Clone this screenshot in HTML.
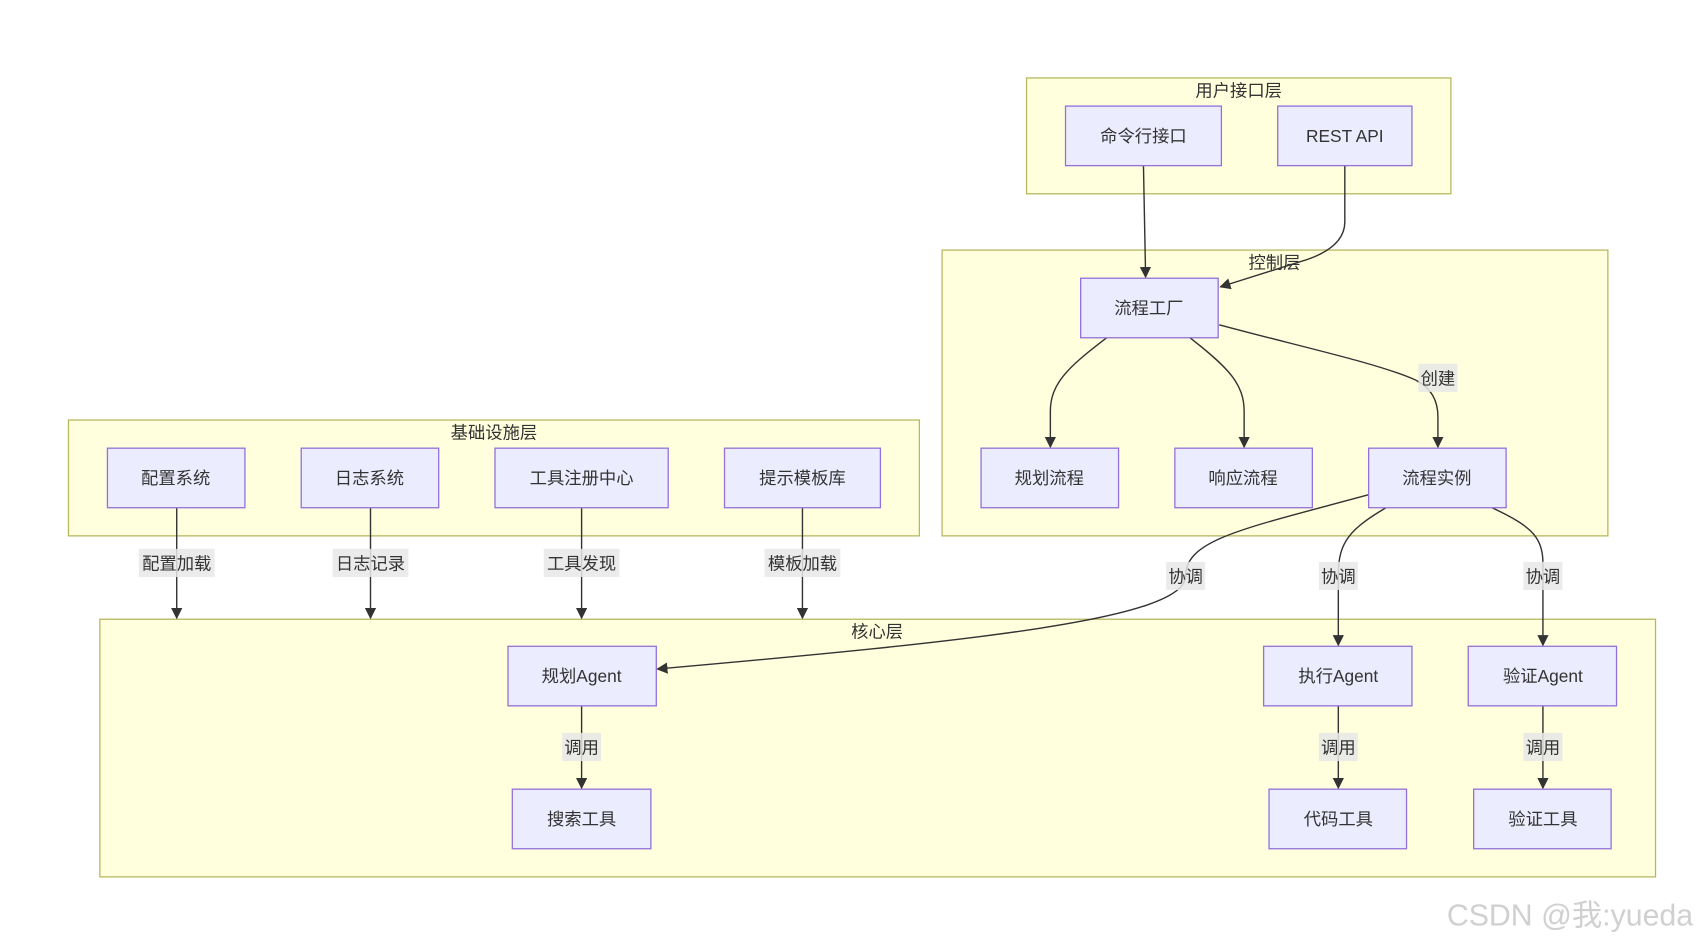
<!DOCTYPE html>
<html><head><meta charset="utf-8"><style>
html,body{margin:0;padding:0;background:#fff;}
svg{display:block;}
text{font-family:"Liberation Sans","Noto Sans CJK SC",sans-serif;fill:#333;}
.c{fill:#ffffde;stroke:#b8b860;stroke-width:1.2;}
.n{fill:#ececff;stroke:#9370db;stroke-width:1.2;}
.e{fill:none;stroke:#333;stroke-width:1.3;}
.lb{fill:#e8e8e8;opacity:0.85;}
</style></head><body>
<svg width="1698" height="944" viewBox="0 0 1568 872" xmlns="http://www.w3.org/2000/svg">
<defs><marker id="a" viewBox="0 0 10 10" refX="9" refY="5" markerWidth="8" markerHeight="8" orient="auto"><path d="M0,0 L10,5 L0,10 z" fill="#333"/></marker></defs>

<rect class="c" x="948" y="72" width="392" height="107"/>
<text x="1144" y="89" font-size="16" text-anchor="middle">用户接口层</text>
<rect class="c" x="870" y="231" width="615" height="264"/>
<text x="1177" y="248" font-size="16" text-anchor="middle">控制层</text>
<rect class="c" x="63" y="388" width="786" height="107"/>
<text x="456" y="405" font-size="16" text-anchor="middle">基础设施层</text>
<rect class="c" x="92" y="572" width="1437" height="238"/>
<text x="810" y="589" font-size="16" text-anchor="middle">核心层</text>

<!-- edges -->
<path class="e" marker-end="url(#a)" d="M1056,153 L1058,256"/>
<path class="e" marker-end="url(#a)" d="M1242,153 L1242,205 Q1242,230 1200,242 L1127,265"/>
<path class="e" marker-end="url(#a)" d="M1022,312 C985,340 970,355 970,380 L970,413"/>
<path class="e" marker-end="url(#a)" d="M1099,312 C1135,340 1149,355 1149,380 L1149,413"/>
<path class="e" marker-end="url(#a)" d="M1126,300 C1200,320 1270,335 1305,350 Q1328,360 1328,385 L1328,413"/>
<path class="e" marker-end="url(#a)" d="M1264,457 C1150,488 1095,498 1095,532 C1095,572 900,592 607,618"/>
<path class="e" marker-end="url(#a)" d="M1280,469 C1248,488 1236,500 1236,530 L1236,596"/>
<path class="e" marker-end="url(#a)" d="M1378,469 C1412,485 1425,495 1425,520 L1425,596"/>
<path class="e" marker-end="url(#a)" d="M163,469 L163,571"/>
<path class="e" marker-end="url(#a)" d="M342,469 L342,571"/>
<path class="e" marker-end="url(#a)" d="M537,469 L537,571"/>
<path class="e" marker-end="url(#a)" d="M741,469 L741,571"/>
<path class="e" marker-end="url(#a)" d="M537,652 L537,728"/>
<path class="e" marker-end="url(#a)" d="M1236,652 L1236,728"/>
<path class="e" marker-end="url(#a)" d="M1425,652 L1425,728"/>

<!-- edge labels -->
<g font-size="16" text-anchor="middle">
<rect class="lb" x="128" y="507" width="70" height="26"/><text x="163" y="526">配置加载</text>
<rect class="lb" x="307" y="507" width="70" height="26"/><text x="342" y="526">日志记录</text>
<rect class="lb" x="502" y="507" width="70" height="26"/><text x="537" y="526">工具发现</text>
<rect class="lb" x="706" y="507" width="70" height="26"/><text x="741" y="526">模板加载</text>
<rect class="lb" x="1310" y="336" width="36" height="26"/><text x="1328" y="355">创建</text>
<rect class="lb" x="1077" y="519" width="36" height="26"/><text x="1095" y="538">协调</text>
<rect class="lb" x="1218" y="519" width="36" height="26"/><text x="1236" y="538">协调</text>
<rect class="lb" x="1407" y="519" width="36" height="26"/><text x="1425" y="538">协调</text>
<rect class="lb" x="519" y="677" width="36" height="26"/><text x="537" y="696">调用</text>
<rect class="lb" x="1218" y="677" width="36" height="26"/><text x="1236" y="696">调用</text>
<rect class="lb" x="1407" y="677" width="36" height="26"/><text x="1425" y="696">调用</text>
</g>

<!-- nodes -->
<g font-size="16" text-anchor="middle">
<rect class="n" x="984" y="98" width="144" height="55"/><text x="1056" y="131">命令行接口</text>
<rect class="n" x="1180" y="98" width="124" height="55"/><text x="1242" y="131">REST API</text>
<rect class="n" x="998" y="257" width="127" height="55"/><text x="1061" y="290">流程工厂</text>
<rect class="n" x="906" y="414" width="127" height="55"/><text x="969" y="447">规划流程</text>
<rect class="n" x="1085" y="414" width="127" height="55"/><text x="1148" y="447">响应流程</text>
<rect class="n" x="1264" y="414" width="127" height="55"/><text x="1327" y="447">流程实例</text>
<rect class="n" x="99" y="414" width="127" height="55"/><text x="162" y="447">配置系统</text>
<rect class="n" x="278" y="414" width="127" height="55"/><text x="341" y="447">日志系统</text>
<rect class="n" x="457" y="414" width="160" height="55"/><text x="537" y="447">工具注册中心</text>
<rect class="n" x="669" y="414" width="144" height="55"/><text x="741" y="447">提示模板库</text>
<rect class="n" x="469" y="597" width="137" height="55"/><text x="537" y="630">规划Agent</text>
<rect class="n" x="1167" y="597" width="137" height="55"/><text x="1236" y="630">执行Agent</text>
<rect class="n" x="1356" y="597" width="137" height="55"/><text x="1425" y="630">验证Agent</text>
<rect class="n" x="473" y="729" width="128" height="55"/><text x="537" y="762">搜索工具</text>
<rect class="n" x="1172" y="729" width="127" height="55"/><text x="1236" y="762">代码工具</text>
<rect class="n" x="1361" y="729" width="127" height="55"/><text x="1425" y="762">验证工具</text>
</g>

<text x="1450" y="855" font-size="28" text-anchor="middle" style="fill:#d0d0d0">CSDN @我:yueda</text>
</svg>
</body></html>
